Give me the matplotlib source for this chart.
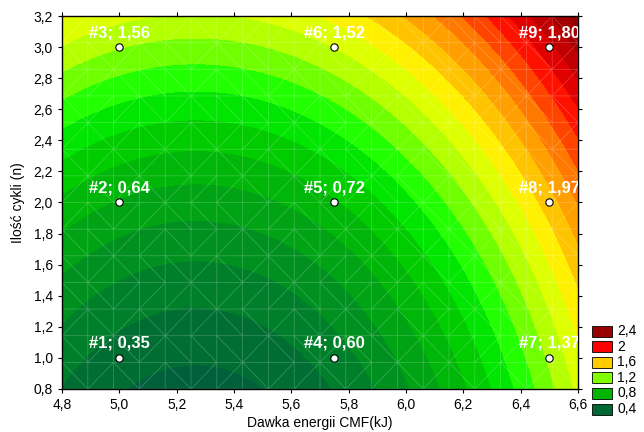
import numpy as np
import matplotlib
matplotlib.use("Agg")
import matplotlib.pyplot as plt
from matplotlib.patches import Rectangle
import matplotlib.tri as mtri

plt.rcParams['font.family'] = ['Liberation Sans', 'DejaVu Sans']

# measured points (energy dose, cycles, response)
x_pts = [5.0, 5.0, 5.0, 5.75, 5.75, 5.75, 6.5, 6.5, 6.5]
y_pts = [1.0, 2.0, 3.0, 1.0, 2.0, 3.0, 1.0, 2.0, 3.0]
z_pts = [0.35, 0.64, 1.56, 0.60, 0.72, 1.52, 1.37, 1.97, 1.80]
point_names = ['#1', '#2', '#3', '#4', '#5', '#6', '#7', '#8', '#9']

legend_labels = ['2,4', '2', '1,6', '1,2', '0,8', '0,4']
legend_colors = ['#990000', '#ff0000', '#ffcc00', '#80ff00', '#00b400', '#006633']

xticks = [4.8, 5.0, 5.2, 5.4, 5.6, 5.8, 6.0, 6.2, 6.4, 6.6]
yticks = [0.8, 1.0, 1.2, 1.4, 1.6, 1.8, 2.0, 2.2, 2.4, 2.6, 2.8, 3.0, 3.2]

# contour levels and the colour of each band between them
levels = [0.3, 0.4, 0.5, 0.6, 0.7, 0.8, 0.9, 1.0, 1.1, 1.2, 1.3, 1.4,
          1.5, 1.6, 1.7, 1.8, 1.9, 2.0, 2.1, 2.2, 2.3, 2.4, 2.5]
band_colors = ['#00603c', '#006e33', '#007f2a', '#009020', '#00a314', '#00b608',
               '#00cc00', '#00e600', '#22ff00', '#70ff00', '#b4ff00', '#deff00',
               '#fff000', '#ffc400', '#ffa000', '#ff7800', '#ff4400', '#ff1100',
               '#e00000', '#c00000', '#a20000', '#900000']


def fit_quadratic(x, y, z):
    # second order model without interaction term
    x = np.asarray(x); y = np.asarray(y)
    A = np.column_stack([np.ones_like(x), x, y, x**2, y**2])
    coef, *_ = np.linalg.lstsq(A, np.asarray(z), rcond=None)
    return coef


def surface(coef, X, Y):
    return coef[0] + coef[1]*X + coef[2]*Y + coef[3]*X**2 + coef[4]*Y**2


def fmt(v):
    return f"{v:.2f}".replace('.', ',')


coef = fit_quadratic(x_pts, y_pts, z_pts)

gx = np.linspace(4.8, 6.6, 300)
gy = np.linspace(0.8, 3.2, 300)
GX, GY = np.meshgrid(gx, gy)
GZ = surface(coef, GX, GY)

fig = plt.figure(figsize=(6.44, 4.32), dpi=100)
ax = fig.add_axes([62/644, 1 - 389/432, 516/644, 373/432])
ax.contourf(GX, GY, GZ, levels=levels, colors=band_colors, extend='both')

# faint wireframe like the original
mx, my = np.meshgrid(np.linspace(4.8, 6.6, 21), np.linspace(0.8, 3.2, 15))
tri = mtri.Triangulation(mx.ravel(), my.ravel())
ax.triplot(tri, color='white', lw=0.5, alpha=0.25)

ax.scatter(x_pts, y_pts, s=28, facecolor='white', edgecolor='black', lw=0.8, zorder=5)
for xp, yp, zp, nm in zip(x_pts, y_pts, z_pts, point_names):
    ax.annotate(f"{nm}; {fmt(zp)}", (xp, yp), xytext=(0, 5), textcoords='offset points',
                ha='center', va='bottom', color='white', fontsize=12, fontweight='bold',
                annotation_clip=False, clip_on=True, zorder=6)

ax.set_xlim(4.8, 6.6)
ax.set_ylim(0.8, 3.2)
ax.set_xticks(xticks)
ax.set_yticks(yticks)
ax.set_xticklabels([f"{t:.1f}".replace('.', ',') for t in xticks])
ax.set_yticklabels([f"{t:.1f}".replace('.', ',') for t in yticks])
ax.tick_params(direction='out', length=3, labelsize=10, top=True, right=True)
ax.set_xlabel('Dawka energii CMF(kJ)', fontsize=10, labelpad=3)
ax.set_ylabel('Ilość cykli (n)', fontsize=10, labelpad=6)
for s in ax.spines.values():
    s.set_linewidth(1.0)

# legend boxes at lower right
for i, (lab, c) in enumerate(zip(legend_labels, legend_colors)):
    yc = 1 - (331 + i*15.6) / 432
    fig.add_artist(Rectangle((592/644, yc - 5.5/432), 20/644, 11/432,
                             transform=fig.transFigure, facecolor=c,
                             edgecolor='black', lw=0.6))
    fig.text(617/644, yc, lab, fontsize=10, va='center', ha='left')

fig.savefig('out.png', dpi=100)
